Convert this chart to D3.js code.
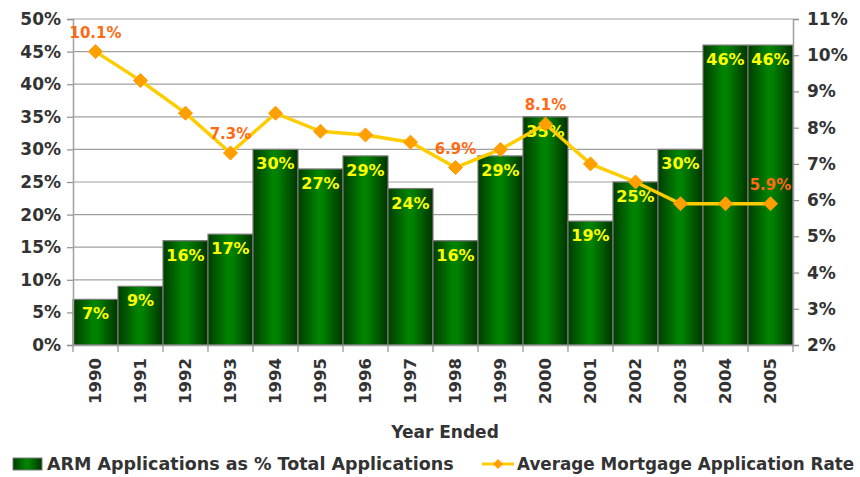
<!DOCTYPE html>
<html><head><meta charset="utf-8">
<script src="https://cdn.jsdelivr.net/npm/d3@7"></script>
<style>
body{margin:0;background:#fff;}
svg text{font-family:"DejaVu Sans",Verdana,sans-serif;font-weight:bold;}
</style></head>
<body><svg id="c" width="860" height="477"></svg>
<script>
const years = ["1990","1991","1992","1993","1994","1995","1996","1997","1998","1999","2000","2001","2002","2003","2004","2005"];
const armShare = [7,9,16,17,30,27,29,24,16,29,35,19,25,30,46,46];
const avgRate = [10.1,9.3,8.4,7.3,8.4,7.9,7.8,7.6,6.9,7.4,8.1,7.0,6.5,5.9,5.9,5.9];
const rateLabelYears = ["1990","1993","1998","2000","2005"];
const leftTicks = [0,5,10,15,20,25,30,35,40,45,50];
const rightTicks = [2,3,4,5,6,7,8,9,10,11];
const xTitle = "Year Ended";
const legendLabels = ["ARM Applications as % Total Applications","Average Mortgage Application Rate"];

const svg = d3.select("#c");
const L=73, R=793, T=19, B=345;
const x = d3.scaleBand().domain(years).range([L,R]).padding(0);
const yL = d3.scaleLinear().domain([0,50]).range([B,T]);
const yR = d3.scaleLinear().domain([2,11]).range([B,T]);

const defs = svg.append("defs");
const g = defs.append("linearGradient").attr("id","barG").attr("x1","0").attr("x2","1").attr("y1","0").attr("y2","0");
g.append("stop").attr("offset","0%").attr("stop-color","#003c00");
g.append("stop").attr("offset","45%").attr("stop-color","#008400");
g.append("stop").attr("offset","55%").attr("stop-color","#008000");
g.append("stop").attr("offset","100%").attr("stop-color","#003300");

// gridlines
svg.append("g").selectAll("line").data(leftTicks.slice(1)).join("line")
  .attr("x1",L).attr("x2",R).attr("y1",d=>yL(d)).attr("y2",d=>yL(d))
  .attr("stroke","#a0a0a0").attr("stroke-width",1.2);

// bars
svg.append("g").selectAll("rect").data(armShare).join("rect")
  .attr("x",(d,i)=>x(years[i])).attr("width",x.bandwidth())
  .attr("y",d=>yL(d)).attr("height",d=>B-yL(d))
  .attr("fill","url(#barG)").attr("stroke","#7a7a7a").attr("stroke-width",1.2);

// axes
const axL = svg.append("g").attr("transform",`translate(${L},0)`)
  .call(d3.axisLeft(yL).tickValues(leftTicks).tickFormat(d=>d+"%").tickSize(6).tickPadding(6));
const axR = svg.append("g").attr("transform",`translate(${R},0)`)
  .call(d3.axisRight(yR).tickValues(rightTicks).tickFormat(d=>d+"%").tickSize(6).tickPadding(8));
const axB = svg.append("g").attr("transform",`translate(0,${B})`)
  .call(d3.axisBottom(x).tickSize(0).tickPadding(0));
[axL,axR].forEach(a=>{
  a.select(".domain").attr("stroke","#a0a0a0").attr("stroke-width",1.5);
  a.selectAll(".tick line").attr("stroke","#909090").attr("stroke-width",1.2);
  a.selectAll("text").attr("font-size",17).attr("fill","#333");
});
axB.select(".domain").attr("stroke","#a0a0a0").attr("stroke-width",1.5);
axB.selectAll(".tick text").attr("font-size",16.5).attr("fill","#333")
  .attr("transform","rotate(-90)").attr("text-anchor","end").attr("dy","0.36em").attr("x",-13).attr("y",0);
// band boundary ticks
svg.append("g").selectAll("line").data(years.concat(["end"])).join("line")
  .attr("x1",(d,i)=>L+i*x.bandwidth()).attr("x2",(d,i)=>L+i*x.bandwidth())
  .attr("y1",B).attr("y2",B+7).attr("stroke","#909090").attr("stroke-width",1.2);

// bar labels
svg.append("g").selectAll("text").data(armShare).join("text")
  .attr("x",(d,i)=>x(years[i])+x.bandwidth()/2).attr("y",d=>yL(d)+20)
  .attr("text-anchor","middle").attr("font-size",16).attr("fill","#ffff00")
  .text(d=>d+"%");

// line
const cx = i=>x(years[i])+x.bandwidth()/2;
svg.append("path").datum(avgRate)
  .attr("d",d3.line().x((d,i)=>cx(i)).y(d=>yR(d)))
  .attr("fill","none").attr("stroke","#ffcc00").attr("stroke-width",3.5);
svg.append("g").selectAll("path").data(avgRate).join("path")
  .attr("transform",(d,i)=>`translate(${cx(i)},${yR(d)})`)
  .attr("d","M0,-7L7,0L0,7L-7,0Z").attr("fill","#ffa000").attr("stroke","#ff9900").attr("stroke-width",1);
svg.append("g").selectAll("text").data(rateLabelYears).join("text")
  .attr("x",d=>cx(years.indexOf(d))).attr("y",d=>yR(avgRate[years.indexOf(d)])-14)
  .attr("text-anchor","middle").attr("font-size",15).attr("fill","#ff6a13")
  .text(d=>avgRate[years.indexOf(d)].toFixed(1)+"%");

// axis title
svg.append("text").attr("x",(L+R)/2+12).attr("y",438).attr("text-anchor","middle")
  .attr("font-size",17).attr("fill","#333").text(xTitle);

// legend
const lg = svg.append("g");
lg.append("rect").attr("x",13).attr("y",458).attr("width",29).attr("height",12)
  .attr("fill","url(#barG)").attr("stroke","#7a7a7a");
lg.append("text").attr("x",47).attr("y",470).attr("font-size",17.5).attr("fill","#333").text(legendLabels[0]);
lg.append("line").attr("x1",482).attr("x2",514).attr("y1",464).attr("y2",464).attr("stroke","#ffcc00").attr("stroke-width",3);
lg.append("path").attr("transform","translate(498,464)").attr("d","M0,-5L5,0L0,5L-5,0Z").attr("fill","#ffa000");
lg.append("text").attr("x",517).attr("y",470).attr("font-size",16.8).attr("fill","#333").text(legendLabels[1]);
</script></body></html>
